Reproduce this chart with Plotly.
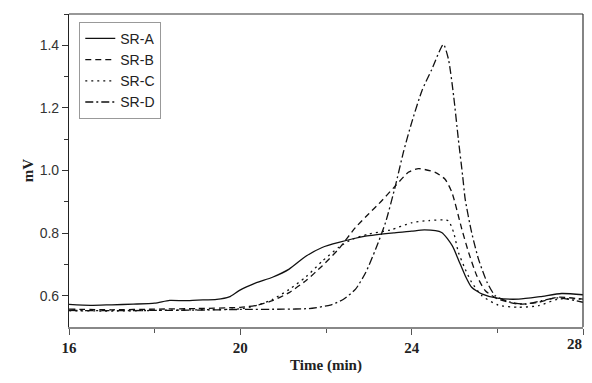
import plotly.graph_objects as go

# ---- data ----
time_a = [16, 16.5, 17, 17.5, 18, 18.35, 18.7, 19, 19.45, 19.74, 19.98, 20.35, 20.75, 21.14, 21.53,
          21.91, 22.3, 22.92, 23.6, 24.0, 24.3, 24.7, 24.95, 25.1, 25.25, 25.4, 25.65, 26.0, 26.5,
          27.0, 27.5, 28]
sr_a = [0.572, 0.569, 0.571, 0.573, 0.576, 0.585, 0.584, 0.586, 0.588, 0.596, 0.617, 0.640, 0.659,
        0.685, 0.726, 0.754, 0.770, 0.790, 0.801, 0.806, 0.810, 0.802, 0.759, 0.712, 0.664, 0.627,
        0.605, 0.592, 0.589, 0.597, 0.607, 0.603]

time_b = [16, 17, 18, 19, 20, 20.4, 20.75, 21.14, 21.53, 21.91, 22.3, 22.69, 23.0, 23.23, 23.62,
          23.93, 24.16, 24.55, 24.78, 24.94, 25.17, 25.33, 25.52, 25.72, 26.02, 26.49, 26.96,
          27.42, 28]
sr_b = [0.557, 0.555, 0.557, 0.559, 0.563, 0.570, 0.584, 0.610, 0.648, 0.695, 0.750, 0.818, 0.862,
        0.893, 0.951, 0.995, 1.006, 0.994, 0.972, 0.930, 0.813, 0.738, 0.664, 0.616, 0.589, 0.573,
        0.579, 0.595, 0.589]

time_c = [16, 17, 18, 19, 20, 20.4, 20.75, 21.14, 21.53, 21.91, 22.3, 22.6, 23.0, 23.5, 24.0, 24.4,
          24.85, 24.98, 25.09, 25.25, 25.4, 25.64, 26.02, 26.49, 26.96, 27.42, 28]
sr_c = [0.552, 0.551, 0.553, 0.555, 0.558, 0.570, 0.588, 0.620, 0.660, 0.710, 0.755, 0.780, 0.797,
        0.810, 0.833, 0.840, 0.840, 0.802, 0.739, 0.685, 0.643, 0.600, 0.570, 0.563, 0.568, 0.589,
        0.589]

time_d = [16, 17, 18, 19, 20, 21, 21.6, 22.1, 22.4, 22.69, 22.93, 23.16, 23.39, 23.62, 23.81, 24.0,
          24.24, 24.47, 24.74, 24.86, 24.98, 25.09, 25.19, 25.25, 25.4, 25.56, 25.76, 25.95, 26.26,
          26.65, 27.03, 27.42, 28]
sr_d = [0.553, 0.552, 0.553, 0.554, 0.556, 0.557, 0.559, 0.570, 0.588, 0.621, 0.675, 0.749, 0.834,
        0.951, 1.060, 1.153, 1.255, 1.323, 1.403, 1.355, 1.238, 1.100, 0.983, 0.908, 0.802, 0.717,
        0.643, 0.600, 0.581, 0.573, 0.584, 0.593, 0.579]

x_tick_vals = [16, 20, 24, 28]
x_tick_labels = ["16", "20", "24", "28"]

names = ["SR-A", "SR-B", "SR-C", "SR-D"]
dashes = ["solid", "6px,4px", "2px,4px", "8px,3px,2px,3px"]

fig = go.Figure()
for t, v, n, d in zip([time_a, time_b, time_c, time_d], [sr_a, sr_b, sr_c, sr_d], names, dashes):
    fig.add_trace(go.Scatter(x=t, y=v, name=n, mode="lines",
                             line=dict(color="#111111", width=1.3, dash=d,
                                       shape="spline", smoothing=0.6)))

tick_font = dict(family="Liberation Serif", size=15, color="#222", weight="bold")

# the page body has an 8px default margin, so the figure is sized to fit inside the window
fig.update_layout(
    width=584, height=366,
    margin=dict(l=61, r=9, t=6, b=47),
    paper_bgcolor="white", plot_bgcolor="white",
    showlegend=True,
    legend=dict(x=0.02, y=0.975, xanchor="left", yanchor="top",
                bordercolor="#999999", borderwidth=1, bgcolor="white",
                font=dict(family="Liberation Sans", size=14, color="#222"),
                tracegroupgap=0),
    shapes=[
        dict(type="line", xref="paper", yref="paper", x0=0, x1=1, y0=1, y1=1,
             line=dict(color="#333", width=1.2)),
        dict(type="line", xref="paper", yref="paper", x0=1, x1=1, y0=0, y1=1,
             line=dict(color="#333", width=1.2)),
    ],
    # last x tick label drawn right-aligned so it is not cut at the window edge
    annotations=[dict(x=x_tick_vals[-1], y=0, xref="x", yref="paper",
                      text=x_tick_labels[-1], showarrow=False,
                      xanchor="right", yanchor="top", xshift=1, yshift=-7,
                      font=tick_font)],
)

fig.update_xaxes(
    range=[16, 28], tickvals=x_tick_vals, ticktext=x_tick_labels[:-1] + [""],
    showgrid=False, zeroline=False, automargin=False,
    showline=True, linecolor="#888888", linewidth=2,
    ticks="outside", ticklen=6, tickcolor="#555", tickwidth=1,
    minor=dict(tickvals=[18, 22, 26], ticks="outside", ticklen=4, tickcolor="#555"),
    tickfont=tick_font,
    title=dict(text="Time (min)", standoff=8,
               font=dict(family="Liberation Serif", size=15, color="#222", weight="bold")),
)
fig.update_yaxes(
    range=[0.5, 1.5], dtick=0.2, tick0=0, tickformat=".1f", showgrid=False, zeroline=False,
    automargin=False,
    showline=True, linecolor="#222", linewidth=1.2,
    ticks="outside", ticklen=6, tickcolor="#333", tickwidth=1,
    minor=dict(tickvals=[0.7, 0.9, 1.1, 1.3, 1.5], ticks="outside", ticklen=4, tickcolor="#333"),
    tickfont=dict(family="Liberation Sans", size=14, color="#333"),
    title=dict(text="mV", standoff=2,
               font=dict(family="Liberation Serif", size=15, color="#222", weight="bold")),
)

fig.write_html("out.html")
